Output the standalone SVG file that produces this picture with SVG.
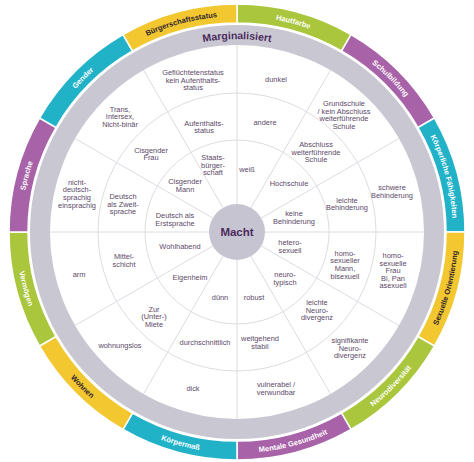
<svg xmlns="http://www.w3.org/2000/svg" xmlns:xlink="http://www.w3.org/1999/xlink" width="474" height="462" viewBox="0 0 474 462">
<style>
.seg{stroke:#fff;stroke-width:1.5}
.y{fill:#f2c72f}.g{fill:#a9c63c}.p{fill:#a862a8}.c{fill:#22b2c8}
.lbl{font-family:'Liberation Sans',Arial,sans-serif;font-size:7.5px;font-weight:bold;text-anchor:middle}
.lw{fill:#fff}.ld{fill:#2e2430}
.t{font-family:'Liberation Sans',Arial,sans-serif;font-size:7.4px;fill:#5b4868;text-anchor:middle}
.grid{stroke:#dcdce2;stroke-width:1;fill:none}
</style>
<defs>
<path id="up" d="M 21.2,232 A 215.8 215.8 0 0 1 452.8,232"/>
<path id="lo" d="M 15.8,232 A 221.2 221.2 0 0 0 458.2,232"/>
<path id="marg" d="M 44,232 A 193 193 0 0 1 430,232"/>
</defs>
<rect width="474" height="462" fill="#fff"/>

<g id="ring-hautfarbe"><path class="seg g" d="M237,4 A228 228 0 0 1 351,34.546 L341.5,51 A209 209 0 0 0 237,23 Z"/><text class="lbl lw"><textPath href="#up" startOffset="58.33%">Hautfarbe</textPath></text></g>
<g id="ring-schulbildung"><path class="seg p" d="M351,34.546 A228 228 0 0 1 434.454,118 L418,127.5 A209 209 0 0 0 341.5,51 Z"/><text class="lbl lw"><textPath href="#up" startOffset="75%">Schulbildung</textPath></text></g>
<g id="ring-koerperliche-faehigkeiten"><path class="seg c" d="M434.454,118 A228 228 0 0 1 465,232 L446,232 A209 209 0 0 0 418,127.5 Z"/><text class="lbl lw"><textPath href="#up" startOffset="91.67%">Körperliche Fähigkeiten</textPath></text></g>
<g id="ring-sexuelle-orientierung"><path class="seg y" d="M465,232 A228 228 0 0 1 434.454,346 L418,336.5 A209 209 0 0 0 446,232 Z"/><text class="lbl ld"><textPath href="#lo" startOffset="91.67%">Sexuelle Orientierung</textPath></text></g>
<g id="ring-neurodiversitaet"><path class="seg g" d="M434.454,346 A228 228 0 0 1 351,429.454 L341.5,413 A209 209 0 0 0 418,336.5 Z"/><text class="lbl lw"><textPath href="#lo" startOffset="75%">Neurodiversität</textPath></text></g>
<g id="ring-mentale-gesundheit"><path class="seg p" d="M351,429.454 A228 228 0 0 1 237,460 L237,441 A209 209 0 0 0 341.5,413 Z"/><text class="lbl lw"><textPath href="#lo" startOffset="58.33%">Mentale Gesundheit</textPath></text></g>
<g id="ring-koerpermass"><path class="seg c" d="M237,460 A228 228 0 0 1 123,429.454 L132.5,413 A209 209 0 0 0 237,441 Z"/><text class="lbl lw"><textPath href="#lo" startOffset="41.67%">Körpermaß</textPath></text></g>
<g id="ring-wohnen"><path class="seg y" d="M123,429.454 A228 228 0 0 1 39.546,346 L56,336.5 A209 209 0 0 0 132.5,413 Z"/><text class="lbl ld"><textPath href="#lo" startOffset="25%">Wohnen</textPath></text></g>
<g id="ring-vermoegen"><path class="seg g" d="M39.546,346 A228 228 0 0 1 9,232 L28,232 A209 209 0 0 0 56,336.5 Z"/><text class="lbl lw"><textPath href="#lo" startOffset="8.33%">Vermögen</textPath></text></g>
<g id="ring-sprache"><path class="seg p" d="M9,232 A228 228 0 0 1 39.546,118 L56,127.5 A209 209 0 0 0 28,232 Z"/><text class="lbl lw"><textPath href="#up" startOffset="8.33%">Sprache</textPath></text></g>
<g id="ring-gender"><path class="seg c" d="M39.546,118 A228 228 0 0 1 123,34.546 L132.5,51 A209 209 0 0 0 56,127.5 Z"/><text class="lbl lw"><textPath href="#up" startOffset="25%">Gender</textPath></text></g>
<g id="ring-buergerschaftsstatus"><path class="seg y" d="M123,34.546 A228 228 0 0 1 237,4 L237,23 A209 209 0 0 0 132.5,51 Z"/><text class="lbl ld"><textPath href="#up" startOffset="41.67%">Bürgerschaftsstatus</textPath></text></g>

<g id="marginalisiert">
<circle cx="237" cy="232" r="197" fill="none" stroke="#c9c8d2" stroke-width="20"/>
<text font-family="'Liberation Sans',Arial,sans-serif" font-size="10.5" font-weight="bold" fill="#4b2b5e" text-anchor="middle"><textPath href="#marg" startOffset="50%">Marginalisiert</textPath></text>
</g>

<g id="connectors" class="grid">
<circle cx="237" cy="232" r="92"/>
<circle cx="237" cy="232" r="139"/>
<line x1="237" y1="45" x2="237" y2="419"/>
<line x1="330.5" y1="70.053" x2="143.5" y2="393.947"/>
<line x1="398.947" y1="138.5" x2="75.053" y2="325.5"/>
<line x1="424" y1="232" x2="50" y2="232"/>
<line x1="398.947" y1="325.5" x2="75.053" y2="138.5"/>
<line x1="330.5" y1="393.947" x2="143.5" y2="70.053"/>
</g>

<g id="macht">
<circle cx="237" cy="232" r="28" fill="#c6c4d0"/>
<text x="237" y="236" font-family="'Liberation Sans',Arial,sans-serif" font-size="11.5" font-weight="bold" fill="#4b2b5e" text-anchor="middle">Macht</text>
</g>

<g id="cells">
<g id="c-gefluechtet"><text class="t" x="193" y="75">Geflüchtetenstatus<tspan x="193" dy="7.6">kein Aufenthalts-</tspan><tspan x="193" dy="7.6">status</tspan></text></g>
<g id="c-trans"><text class="t" x="120" y="111.5">Trans,<tspan x="120" dy="7.6">Intersex,</tspan><tspan x="120" dy="7.6">Nicht-binär</tspan></text></g>
<g id="c-aufenthalt"><text class="t" x="204" y="125.8">Aufenthalts-<tspan x="204" dy="7.6">status</tspan></text></g>
<g id="c-cisfrau"><text class="t" x="151" y="152.8">Cisgender<tspan x="151" dy="7.6">Frau</tspan></text></g>
<g id="c-staat"><text class="t" x="213" y="160">Staats-<tspan x="213" dy="7.6">bürger-</tspan><tspan x="213" dy="7.6">schaft</tspan></text></g>
<g id="c-cismann"><text class="t" x="185" y="184.3">Cisgender<tspan x="185" dy="7.6">Mann</tspan></text></g>
<g id="c-nichtdeutsch"><text class="t" x="77" y="184.7">nicht-<tspan x="77" dy="7.6">deutsch-</tspan><tspan x="77" dy="7.6">sprachig</tspan><tspan x="77" dy="7.6">einsprachig</tspan></text></g>
<g id="c-zweit"><text class="t" x="123" y="199">Deutsch<tspan x="123" dy="7.6">als Zweit-</tspan><tspan x="123" dy="7.6">sprache</tspan></text></g>
<g id="c-erst"><text class="t" x="175" y="218.3">Deutsch als<tspan x="175" dy="7.6">Erstsprache</tspan></text></g>
<g id="c-dunkel"><text class="t" x="276" y="81.6">dunkel</text></g>
<g id="c-grundschule"><text class="t" x="344" y="106.2">Grundschule<tspan x="344" dy="7.6">/ kein Abschluss</tspan><tspan x="344" dy="7.6">weiterführende</tspan><tspan x="344" dy="7.6">Schule</tspan></text></g>
<g id="c-andere"><text class="t" x="265" y="124.6">andere</text></g>
<g id="c-abschluss"><text class="t" x="316" y="147">Abschluss<tspan x="316" dy="7.6">weiterführende</tspan><tspan x="316" dy="7.6">Schule</tspan></text></g>
<g id="c-weiss"><text class="t" x="247" y="171.6">weiß</text></g>
<g id="c-hochschule"><text class="t" x="289" y="185.6">Hochschule</text></g>
<g id="c-schwer"><text class="t" x="392" y="190.3">schwere<tspan x="392" dy="7.6">Behinderung</tspan></text></g>
<g id="c-leichtb"><text class="t" x="347" y="202.8">leichte<tspan x="347" dy="7.6">Behinderung</tspan></text></g>
<g id="c-keine"><text class="t" x="294" y="216.3">keine<tspan x="294" dy="7.6">Behinderung</tspan></text></g>
<g id="c-wohlhabend"><text class="t" x="180" y="248.6">Wohlhabend</text></g>
<g id="c-mittel"><text class="t" x="124" y="259.3">Mittel-<tspan x="124" dy="7.6">schicht</tspan></text></g>
<g id="c-arm"><text class="t" x="79" y="276.6">arm</text></g>
<g id="c-eigenheim"><text class="t" x="190" y="279.6">Eigenheim</text></g>
<g id="c-duenn"><text class="t" x="220" y="299.6">dünn</text></g>
<g id="c-miete"><text class="t" x="154" y="311.5">Zur<tspan x="154" dy="7.6">(Unter-)</tspan><tspan x="154" dy="7.6">Miete</tspan></text></g>
<g id="c-wohnungslos"><text class="t" x="120" y="347.6">wohnungslos</text></g>
<g id="c-durchschnitt"><text class="t" x="205" y="344.6">durchschnittlich</text></g>
<g id="c-dick"><text class="t" x="193" y="390.6">dick</text></g>
<g id="c-hetero"><text class="t" x="290" y="245.3">hetero-<tspan x="290" dy="7.6">sexuell</tspan></text></g>
<g id="c-homomann"><text class="t" x="345" y="255.7">homo-<tspan x="345" dy="7.6">sexueller</tspan><tspan x="345" dy="7.6">Mann,</tspan><tspan x="345" dy="7.6">bisexuell</tspan></text></g>
<g id="c-homofrau"><text class="t" x="393" y="257.9">homo-<tspan x="393" dy="7.6">sexuelle</tspan><tspan x="393" dy="7.6">Frau</tspan><tspan x="393" dy="7.6">Bi, Pan</tspan><tspan x="393" dy="7.6">asexuell</tspan></text></g>
<g id="c-neurotyp"><text class="t" x="285" y="277.3">neuro-<tspan x="285" dy="7.6">typisch</tspan></text></g>
<g id="c-robust"><text class="t" x="254" y="299.6">robust</text></g>
<g id="c-leichtn"><text class="t" x="317" y="305">leichte<tspan x="317" dy="7.6">Neuro-</tspan><tspan x="317" dy="7.6">divergenz</tspan></text></g>
<g id="c-stabil"><text class="t" x="260" y="341.3">weitgehend<tspan x="260" dy="7.6">stabil</tspan></text></g>
<g id="c-signifikant"><text class="t" x="350" y="343">signifikante<tspan x="350" dy="7.6">Neuro-</tspan><tspan x="350" dy="7.6">divergenz</tspan></text></g>
<g id="c-vulnerabel"><text class="t" x="276" y="387.3">vulnerabel /<tspan x="276" dy="7.6">verwundbar</tspan></text></g>
</g>
</svg>
